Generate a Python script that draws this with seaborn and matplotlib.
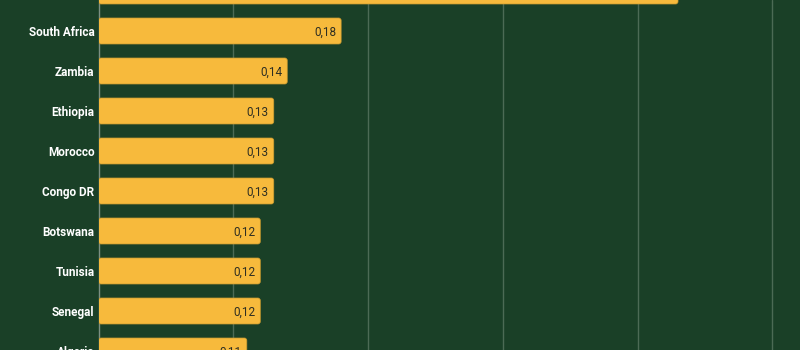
import matplotlib
matplotlib.use("Agg")
import matplotlib.pyplot as plt
from matplotlib.patches import FancyBboxPatch
import seaborn as sns
import pandas as pd

# Data
countries = ["Egypt", "South Africa", "Zambia", "Ethiopia", "Morocco",
             "Congo DR", "Botswana", "Tunisia", "Senegal", "Algeria"]
values = [0.43, 0.18, 0.14, 0.13, 0.13, 0.13, 0.12, 0.12, 0.12, 0.11]

BG = "#1a4027"
BAR = "#f7ba3c"
GRID = "#4c6b55"

sns.set_theme(style="white")
plt.rcParams["font.family"] = ["Roboto", "DejaVu Sans"]

df = pd.DataFrame({"country": countries, "value": values})

W, H = 800, 350
fig = plt.figure(figsize=(W / 100, H / 100), dpi=100, facecolor=BG)
px_per_unit = 1347.5
px_per_row = 40
left_px = 98.6
y_top, y_bottom = 0.225, 9.5
ax_h_px = (y_bottom - y_top) * px_per_row
ax = fig.add_axes([left_px / W, 1 - ax_h_px / H, 1 - left_px / W, ax_h_px / H])
ax.set_facecolor(BG)

sns.barplot(data=df, x="value", y="country", orient="h", color=BAR,
            width=0.65, saturation=1, ax=ax, zorder=3)

ax.set_xlim(0, (W - left_px) / px_per_unit)
ax.set_ylim(y_bottom, y_top)

# Replace rectangles with slightly rounded bars
y_per_px = 1 / px_per_row
x_per_px = 1 / px_per_unit
for p in list(ax.patches):
    x, y = p.get_x(), p.get_y()
    w, h = p.get_width(), p.get_height()
    p.remove()
    fb = FancyBboxPatch((x, y), w, h,
                        boxstyle=f"round,pad=0,rounding_size={2.5 * x_per_px}",
                        mutation_aspect=y_per_px / x_per_px,
                        facecolor=BAR, edgecolor="#c99a2e", linewidth=0.5,
                        zorder=3)
    ax.add_patch(fb)

# Value labels inside bars
for i, v in enumerate(values):
    ax.text(v - 5 * x_per_px, i, f"{v:.2f}".replace(".", ","),
            ha="right", va="center_baseline", fontsize=8.5, color="#2e2e22",
            zorder=4)

# Grid
ax.set_xticks([0.1, 0.2, 0.3, 0.4, 0.5])
ax.xaxis.grid(True, color=GRID, linewidth=1, zorder=0)
ax.tick_params(axis="x", length=0, labelbottom=False)
ax.tick_params(axis="y", length=0, pad=3)
for lbl in ax.get_yticklabels():
    lbl.set_color("white")
    lbl.set_fontweight("bold")
    lbl.set_fontsize(8.5)

for s in ["top", "right", "bottom"]:
    ax.spines[s].set_visible(False)
ax.spines["left"].set_color("#7d8f82")
ax.spines["left"].set_linewidth(1)
ax.set_xlabel("")
ax.set_ylabel("")

fig.savefig("out.png", dpi=100, facecolor=BG)
